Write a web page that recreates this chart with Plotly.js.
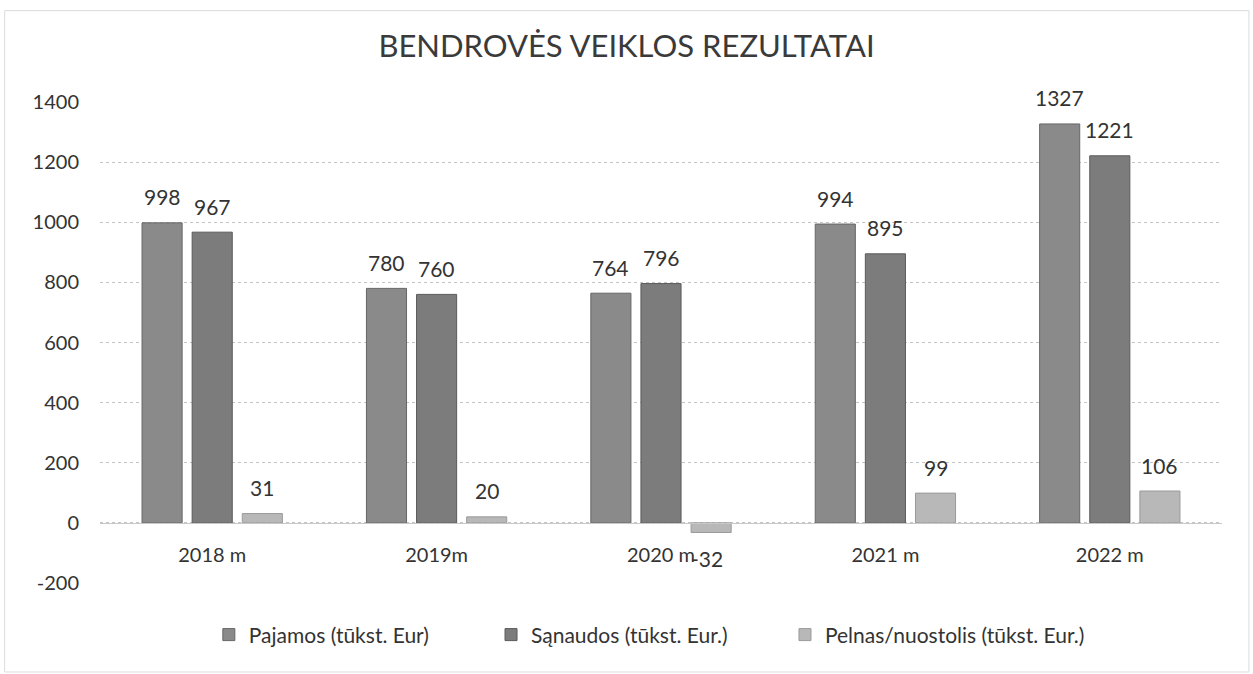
<!DOCTYPE html>
<html>
<head>
<meta charset="utf-8">
<script src="https://cdn.plot.ly/plotly-3.0.1.min.js"></script>
<style>html,body{margin:0;padding:0;background:#fff;}#chart{width:1253px;height:674px;}</style>
</head>
<body>
<div id="chart"></div>
<script>
var categories = ["2018 m", "2019m", "2020 m", "2021 m", "2022 m"];
var seriesNames = ["Pajamos (tūkst. Eur)", "Sąnaudos (tūkst. Eur.)", "Pelnas/nuostolis (tūkst. Eur.)"];
var pajamos = [998, 780, 764, 994, 1327];
var sanaudos = [967, 760, 796, 895, 1221];
var pelnas = [31, 20, -32, 99, 106];
var yTicks = [-200, 0, 200, 400, 600, 800, 1000, 1200, 1400];

var FONT = "Lato, 'Open Sans', sans-serif";
var colors = ["#8a8a8a", "#7c7c7c", "#b8b8b8"];
var lineColors = ["#666", "#5a5a5a", "#9a9a9a"];
var values = [pajamos, sanaudos, pelnas];
var BARGAP = 0.33;
var slot = (1 - BARGAP) / values.length;
var legendIds = ["legend", "legend2", "legend3"];
var legendX = [0.097, 0.3485, 0.6105];

var traces = values.map(function (v, i) {
  return {
    type: "bar",
    name: seriesNames[i],
    legend: legendIds[i],
    x: categories,
    y: v,
    marker: {color: colors[i], line: {color: lineColors[i], width: 1}}
  };
});

var annotations = [];
values.forEach(function (v, i) {
  v.forEach(function (val, j) {
    annotations.push({
      xref: "x", yref: "y",
      x: j + (i - (values.length - 1) / 2) * slot,
      y: val,
      text: String(val),
      showarrow: false,
      yanchor: "middle",
      yshift: val >= 0 ? 26 : -26,
      xshift: val >= 0 ? 0 : -4,
      font: {family: FONT, size: 21, color: "#333"}
    });
  });
});

var layout = {
  width: 1253,
  height: 674,
  paper_bgcolor: "#fff",
  plot_bgcolor: "#fff",
  margin: {l: 100, r: 31, t: 102, b: 91},
  title: {
    text: "BENDROVĖS VEIKLOS REZULTATAI",
    font: {family: FONT, size: 31, color: "#3a3a3a"},
    x: 0.5, xanchor: "center",
    y: 0.931, yanchor: "middle"
  },
  barmode: "group",
  bargap: BARGAP,
  bargroupgap: 0.2,
  showlegend: true,
  annotations: annotations,
  xaxis: {
    type: "category",
    anchor: "free",
    position: 0.125,
    showgrid: false,
    showline: true,
    linecolor: "#c8c8c8",
    linewidth: 1,
    ticks: "",
    ticklabelstandoff: 14,
    tickfont: {family: FONT, size: 20, color: "#333"}
  },
  yaxis: {
    range: [-200, 1400],
    tickvals: yTicks,
    ticktext: yTicks.map(String),
    showgrid: true,
    gridcolor: "#c4c4c4",
    griddash: "dot",
    gridwidth: 1,
    zeroline: false,
    showline: false,
    ticks: "",
    ticklabelstandoff: 20,
    tickfont: {family: FONT, size: 20, color: "#333"}
  },
  shapes: [{
    type: "rect", xref: "paper", yref: "paper",
    x0: -0.085, x1: 1.024, y0: -0.185, y1: 1.19,
    line: {color: "#dcdcdc", width: 1}
  }]
};

legendIds.forEach(function (id, i) {
  layout[id] = {
    orientation: "h",
    x: legendX[i], xanchor: "left",
    y: -0.108, yanchor: "middle",
    font: {family: FONT, size: 21, color: "#333"},
    itemwidth: 30,
    bgcolor: "rgba(0,0,0,0)"
  };
});

Plotly.newPlot("chart", traces, layout, {staticPlot: true});
</script>
</body>
</html>
